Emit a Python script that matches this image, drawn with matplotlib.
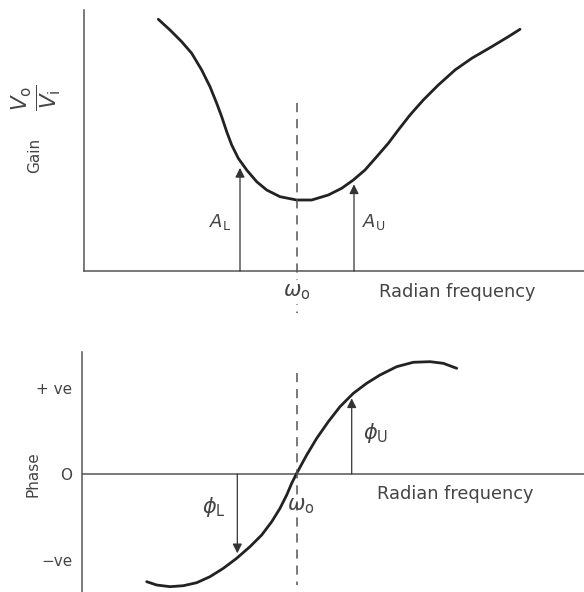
import matplotlib
matplotlib.use("Agg")
import matplotlib.pyplot as plt

plt.rcParams["font.family"] = ["DejaVu Sans"]
plt.rcParams["mathtext.fontset"] = "dejavusans"

# Gain response around the centre frequency (arbitrary units)
gain_freq = [1.486, 1.72, 1.954, 2.154, 2.354, 2.52, 2.654, 2.754, 2.854,
             2.954, 3.086, 3.254, 3.454, 3.654, 3.92, 4.254, 4.554, 4.886,
             5.154, 5.386, 5.62, 5.854, 6.086, 6.286, 6.52, 6.786, 7.086,
             7.42, 7.754, 8.154, 8.486, 8.72]
gain_vals = [9.644, 9.234, 8.785, 8.341, 7.701, 7.061, 6.425, 5.912, 5.337,
             4.828, 4.318, 3.870, 3.421, 3.103, 2.847, 2.720, 2.720, 2.912,
             3.169, 3.487, 3.870, 4.379, 4.893, 5.402, 5.977, 6.552, 7.126,
             7.701, 8.149, 8.594, 8.977, 9.261]

# Phase response (+1 = "+ve", -1 = "-ve")
phase_freq = [1.254, 1.454, 1.72, 1.986, 2.254, 2.52, 2.786, 3.054, 3.32,
              3.554, 3.754, 3.92, 4.054, 4.154, 4.254, 4.454, 4.654, 4.886,
              5.12, 5.386, 5.654, 5.92, 6.254, 6.586, 6.92, 7.186, 7.454]
phase_vals = [-1.252, -1.291, -1.310, -1.299, -1.264, -1.194, -1.097, -0.980,
              -0.845, -0.709, -0.555, -0.399, -0.244, -0.108, 0.008, 0.221,
              0.415, 0.608, 0.783, 0.938, 1.055, 1.151, 1.248, 1.299, 1.306,
              1.287, 1.229]

omega_0 = 4.25
gain_markers = {"L": (3.12, 3.95), "U": (5.40, 3.32)}
phase_markers = {"L": (3.066, -0.922), "U": (5.354, 0.880)}
phase_ticks = [1, 0, -1]
phase_ticklabels = ["+ ve", "O", "\u2212ve"]

W, H = 584, 592
fig = plt.figure(figsize=(W / 100, H / 100), dpi=100)

def px_axes(x0, y0, x1, y1):
    return fig.add_axes([x0 / W, 1 - y1 / H, (x1 - x0) / W, (y1 - y0) / H])

ink = "#222222"
axis_c = "#555555"
txt_c = "#444444"
arrow_kw = dict(arrowstyle="-|>", color="#333333", lw=0.9,
                mutation_scale=14, shrinkA=0, shrinkB=0)

# ---------- gain panel ----------
ax1 = px_axes(84, 10, 584, 271)
ax1.set_xlim(0, 10)
ax1.set_ylim(0, 10)
for s in ("top", "right"):
    ax1.spines[s].set_visible(False)
for s in ("left", "bottom"):
    ax1.spines[s].set_color(axis_c)
    ax1.spines[s].set_linewidth(1.1)
ax1.set_xticks([])
ax1.set_yticks([])
ax1.patch.set_alpha(0)

ax1.plot(gain_freq, gain_vals, color=ink, lw=2.0,
         solid_capstyle="round", solid_joinstyle="round")
ax1.plot([omega_0, omega_0], [6.44, -1.6], color=axis_c, lw=1.1,
         dashes=(6, 4.5), clip_on=False)

for key, (fx, fy) in gain_markers.items():
    ax1.annotate("", xy=(fx, fy), xytext=(fx, 0), arrowprops=arrow_kw)
ax1.text(2.72, 1.88, r"$\mathit{A}_{\mathrm{L}}$", fontsize=13,
         color=txt_c, ha="center", va="center")
ax1.text(5.79, 1.88, r"$\mathit{A}_{\mathrm{U}}$", fontsize=13,
         color=txt_c, ha="center", va="center")

ax1.text(omega_0, -0.8, r"$\omega_{\mathrm{o}}$", fontsize=15, color=txt_c,
         ha="center", va="center",
         bbox=dict(fc="white", ec="none", pad=1.5))
ax1.text(7.46, -0.8, "Radian frequency", fontsize=12.8, color=txt_c,
         ha="center", va="center")

fig.text(35 / W, 1 - 155 / H, "Gain", rotation=90, fontsize=11,
         color=txt_c, ha="center", va="center")
fig.text(37 / W, 1 - 98 / H, r"$\frac{V_{\mathrm{o}}}{V_{\mathrm{i}}}$",
         rotation=90, fontsize=22, color=txt_c, ha="center", va="center")

# ---------- phase panel ----------
ax2 = px_axes(82, 352, 584, 592)
ax2.set_xlim(-0.04, 10)
ax2.set_ylim(-(592 - 474) / 86, (474 - 352) / 86)
for s in ("top", "right", "bottom"):
    ax2.spines[s].set_visible(False)
ax2.spines["left"].set_color(axis_c)
ax2.spines["left"].set_linewidth(1.1)
ax2.set_xticks([])
ax2.set_yticks(phase_ticks)
ax2.set_yticklabels(phase_ticklabels, fontsize=11, color=txt_c)
ax2.tick_params(axis="y", length=0, pad=7)
ax2.patch.set_alpha(0)

ax2.axhline(0, color=axis_c, lw=1.1)
ax2.plot(phase_freq, phase_vals, color=ink, lw=2.0,
         solid_capstyle="round", solid_joinstyle="round")
ax2.plot([omega_0, omega_0], [1.17, -1.29], color=axis_c, lw=1.1,
         dashes=(6, 4.5))

for key, (fx, fy) in phase_markers.items():
    ax2.annotate("", xy=(fx, fy), xytext=(fx, 0), arrowprops=arrow_kw)
ax2.text(2.6, -0.384, r"$\phi_{\mathrm{L}}$", fontsize=15, color=txt_c,
         ha="center", va="center")
ax2.text(5.84, 0.477, r"$\phi_{\mathrm{U}}$", fontsize=15, color=txt_c,
         ha="center", va="center")
ax2.text(4.34, -0.37, r"$\omega_{\mathrm{o}}$", fontsize=15, color=txt_c,
         ha="center", va="center")
ax2.text(7.42, -0.238, "Radian frequency", fontsize=12.8, color=txt_c,
         ha="center", va="center")

fig.text(33 / W, 1 - 474 / H, "Phase", rotation=90, fontsize=11,
         color=txt_c, ha="center", va="center")

fig.savefig("out.png", dpi=100)
